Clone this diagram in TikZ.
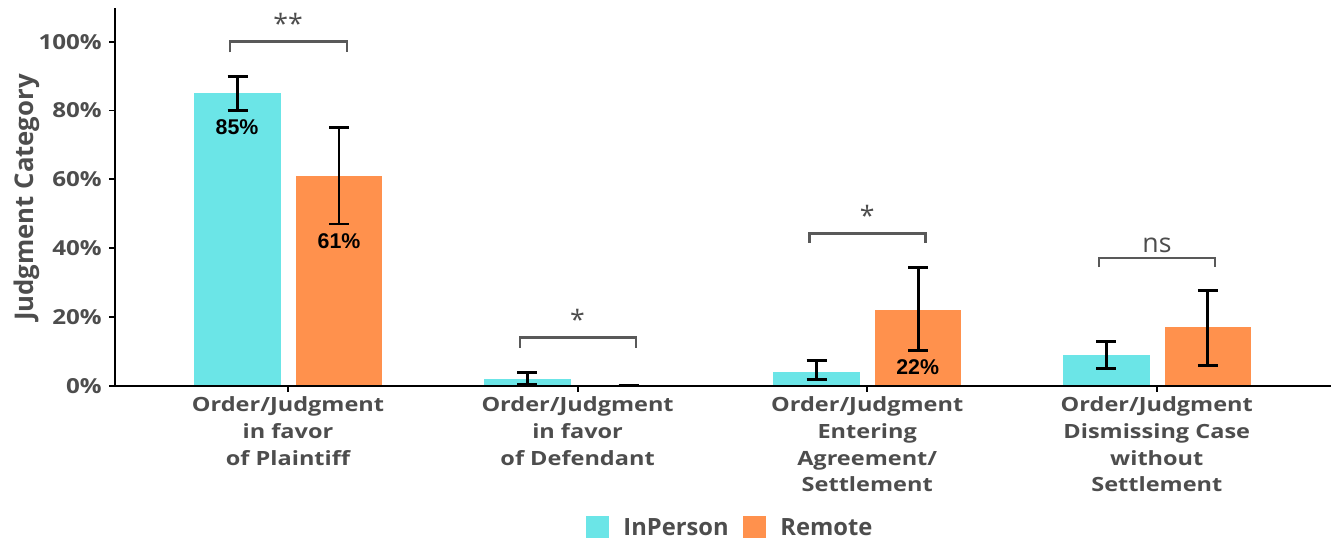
\documentclass[tikz,border=0pt]{standalone}
\usepackage{fontspec}
\setmainfont{Open Sans}
\newfontfamily\tickfont[FakeStretch=1.17]{Open Sans}
\newfontfamily\catfont[FakeStretch=1.2]{Open Sans}
\newfontfamily\valfont{Liberation Sans}
\usetikzlibrary{positioning}
\definecolor{inperson}{HTML}{6BE5E7}
\definecolor{remote}{HTML}{FF914D}
\definecolor{labgray}{HTML}{4D4D4D}
\definecolor{brgray}{HTML}{595959}

\begin{document}
\begin{tikzpicture}[
    x=0.75pt, y=0.75pt,
    ticklab/.style={font=\tickfont\bfseries\fontsize{15.5}{15.5}\selectfont, text=labgray, anchor=east, inner sep=0pt},
    catlab/.style={font=\catfont\bfseries\fontsize{14.7}{20}\selectfont, text=labgray, align=center, anchor=north, inner sep=0pt},
    vallab/.style={font=\valfont\bfseries\fontsize{16}{16}\selectfont, text=black, inner sep=0pt},
    sig/.style={font=\fontsize{20}{20}\selectfont, text=labgray, anchor=base, inner sep=0pt},
    errbar/.style={line width=2.2pt, black},
    bracket/.style={line width=1.8pt, brgray},
    legbox/.style={minimum size=17pt, inner sep=0pt},
    leglab/.style={font=\bfseries\fontsize{17.8}{17.8}\selectfont, text=labgray, anchor=west, inner sep=0pt},
  ]
  \useasboundingbox (0,0) rectangle (1339,542);

  % data part: x in px, y in percent
  \begin{scope}[shift={(0,156.3)}, y=2.58pt]
    \foreach \c/\a/\alo/\ahi/\b/\blo/\bhi in {288/85/80/90/61/47/75, 577.6/1.9/0.3/3.9/0/0/0,
        867.2/4/1.7/7.4/22/10.3/34.3, 1156.8/8.9/5/12.9/17/6/27.6}{
      \fill[inperson] (\c-94,0) rectangle (\c-7,\a);
      \fill[remote] (\c+8,0) rectangle (\c+94,\b);
      \draw[errbar] (\c-60.5,\alo) -- (\c-40.5,\alo) (\c-50.5,\alo) -- (\c-50.5,\ahi) (\c-60.5,\ahi) -- (\c-40.5,\ahi);
      \draw[errbar] (\c+41,\blo) -- (\c+61,\blo) (\c+51,\blo) -- (\c+51,\bhi) (\c+41,\bhi) -- (\c+61,\bhi);
      \draw[line width=1.4pt] (\c,0) -- ++(0,-1.75);
    }
    % axes
    \draw[line width=1.5pt] (115,109.7) -- (115,0) -- (1331,0);
    \foreach \v in {0,20,...,100}{
      \draw[line width=1.4pt] (109,\v) -- (115,\v);
      \node[ticklab] (tick\v) at (102,\v) {\v\%};
    }
    % value labels
    \node[vallab] (lab85) at (237,75.2) {85\%};
    \node[vallab] (lab61) at (339,42.1) {61\%};
    \node[vallab] (lab22) at (917.7,5.5) {22\%};
    % significance brackets
    \draw[bracket] (230,96.9) -- (230,100) -- (346.7,100) -- (346.7,96.9);
    \node[sig] (sigplain) at (288,102.4) {**};
    \draw[bracket] (519.7,11.1) -- (519.7,14) -- (635.7,14) -- (635.7,11.1);
    \node[sig] (sigdef) at (577.6,16.4) {*};
    \draw[bracket] (809.3,41.6) -- (809.3,44.3) -- (925.3,44.3) -- (925.3,41.6);
    \node[sig] (sigagree) at (867.2,46.7) {*};
    \draw[bracket] (1099,34.5) -- (1099,37.2) -- (1215,37.2) -- (1215,34.5);
    \node[sig] (sigdismiss) at (1157,38.8) {ns};
  \end{scope}

  % axis title and category labels
  \node[font=\bfseries\fontsize{19.3}{19.3}\selectfont, text=labgray, rotate=90, anchor=base, inner sep=0pt] (ytitle) at (33.3,344.5) {Judgment Category};
  \node[catlab] (catplain) at (288,145.2) {Order/Judgment\\in favor\\of Plaintiff};
  \node[catlab] (catdef) at (577.6,145.2) {Order/Judgment\\in favor\\of Defendant};
  \node[catlab] (catagree) at (867.2,145.2) {Order/Judgment\\Entering\\Agreement/\\Settlement};
  \node[catlab] (catdismiss) at (1156.8,145.2) {Order/Judgment\\Dismissing Case\\without\\Settlement};

  % legend
  \node[legbox, fill=inperson, anchor=south west] (keyin) at (586,3.3) {};
  \node[leglab, right=10.5pt of keyin] (txtin) {InPerson};
  \node[legbox, fill=remote, anchor=south west] (keyre) at (743,3.3) {};
  \node[leglab, right=10.5pt of keyre] (txtre) {Remote};
\end{tikzpicture}
\end{document}
